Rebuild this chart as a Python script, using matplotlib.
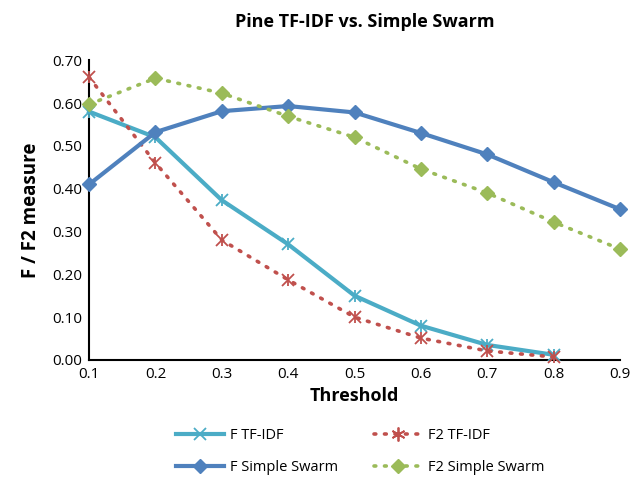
import matplotlib
matplotlib.use("Agg")
import matplotlib.pyplot as plt
from matplotlib.lines import Line2D

thresholds = [0.1, 0.2, 0.3, 0.4, 0.5, 0.6, 0.7, 0.8, 0.9]
f_tfidf = [0.58, 0.52, 0.373, 0.27, 0.15, 0.08, 0.035, 0.012]
f2_tfidf = [0.66, 0.46, 0.28, 0.187, 0.10, 0.051, 0.021, 0.007]
f_swarm = [0.41, 0.532, 0.581, 0.593, 0.578, 0.53, 0.48, 0.415, 0.352]
f2_swarm = [0.597, 0.658, 0.623, 0.569, 0.52, 0.446, 0.39, 0.322, 0.259]
yticks = [0.0, 0.1, 0.2, 0.3, 0.4, 0.5, 0.6, 0.7]

plt.rcParams['font.family'] = ['Open Sans', 'DejaVu Sans']

fig = plt.figure(figsize=(6.32, 4.78), dpi=100)
ax = fig.add_axes([0.141, 0.247, 0.840, 0.627])

c_cyan = '#4BACC6'
c_red = '#C0504D'
c_blue = '#4F81BD'
c_green = '#9BBB59'
dots = (0, (0.5, 2.4))

ax.plot(thresholds[:len(f_tfidf)], f_tfidf, color=c_cyan, lw=3, marker='x', ms=9, mew=1.3, zorder=3, clip_on=False)
ax.plot(thresholds[:len(f_tfidf)], f_tfidf, ls='none', color=c_cyan, marker='|', ms=9, mew=1.3, zorder=3, clip_on=False)
ax.plot(thresholds[:len(f2_tfidf)], f2_tfidf, color=c_red, lw=2.6, ls=dots, dash_capstyle='round', marker='x', ms=9, mew=1.3, zorder=3, clip_on=False)
ax.plot(thresholds[:len(f2_tfidf)], f2_tfidf, ls='none', color=c_red, marker='|', ms=9, mew=1.3, zorder=3, clip_on=False)
ax.plot(thresholds, f_swarm, color=c_blue, lw=3, marker='D', ms=7.5, zorder=3, clip_on=False)
ax.plot(thresholds, f2_swarm, color=c_green, lw=2.6, ls=dots, dash_capstyle='round', marker='D', ms=7.5, zorder=3, clip_on=False)

ax.set_xlim(0.1, 0.9)
ax.set_ylim(0, 0.7)
ax.set_xticks(thresholds)
ax.set_xticklabels([f'{t:.1f}' for t in thresholds], fontsize=11)
ax.set_yticks(yticks)
ax.set_yticklabels([f'{v:.2f}' for v in yticks], fontsize=11)
ax.tick_params(length=0, pad=5)
for s in ['top', 'right']:
    ax.spines[s].set_visible(False)
for s in ['left', 'bottom']:
    ax.spines[s].set_linewidth(1.5)
    ax.spines[s].set_color('black')

ax.set_xlabel('Threshold', fontsize=13, fontweight='bold', labelpad=4)
ax.set_ylabel('F / F2 measure', fontsize=13.5, fontweight='bold', labelpad=8)
fig.text(0.578, 0.955, 'Pine TF-IDF vs. Simple Swarm', ha='center', va='center', fontsize=13, fontweight='bold')

h1 = Line2D([], [], color=c_cyan, lw=3, marker='x', ms=8, mew=1.3)
h2 = Line2D([], [], color=c_red, lw=2.6, ls=dots, dash_capstyle='round', marker=(6, 2, 0), ms=10, mew=1.3)
h3 = Line2D([], [], color=c_blue, lw=3, marker='D', ms=7)
h4 = Line2D([], [], color=c_green, lw=2.6, ls=dots, dash_capstyle='round', marker='D', ms=7)
fig.legend([h1, h3, h2, h4], ['F TF-IDF', 'F Simple Swarm', 'F2 TF-IDF', 'F2 Simple Swarm'],
           ncol=2, loc='center', bbox_to_anchor=(0.57, 0.055), frameon=False, fontsize=10.5,
           handlelength=3.3, columnspacing=2.5, labelspacing=1.2, handletextpad=0.4)

fig.savefig('out.png', dpi=100)
